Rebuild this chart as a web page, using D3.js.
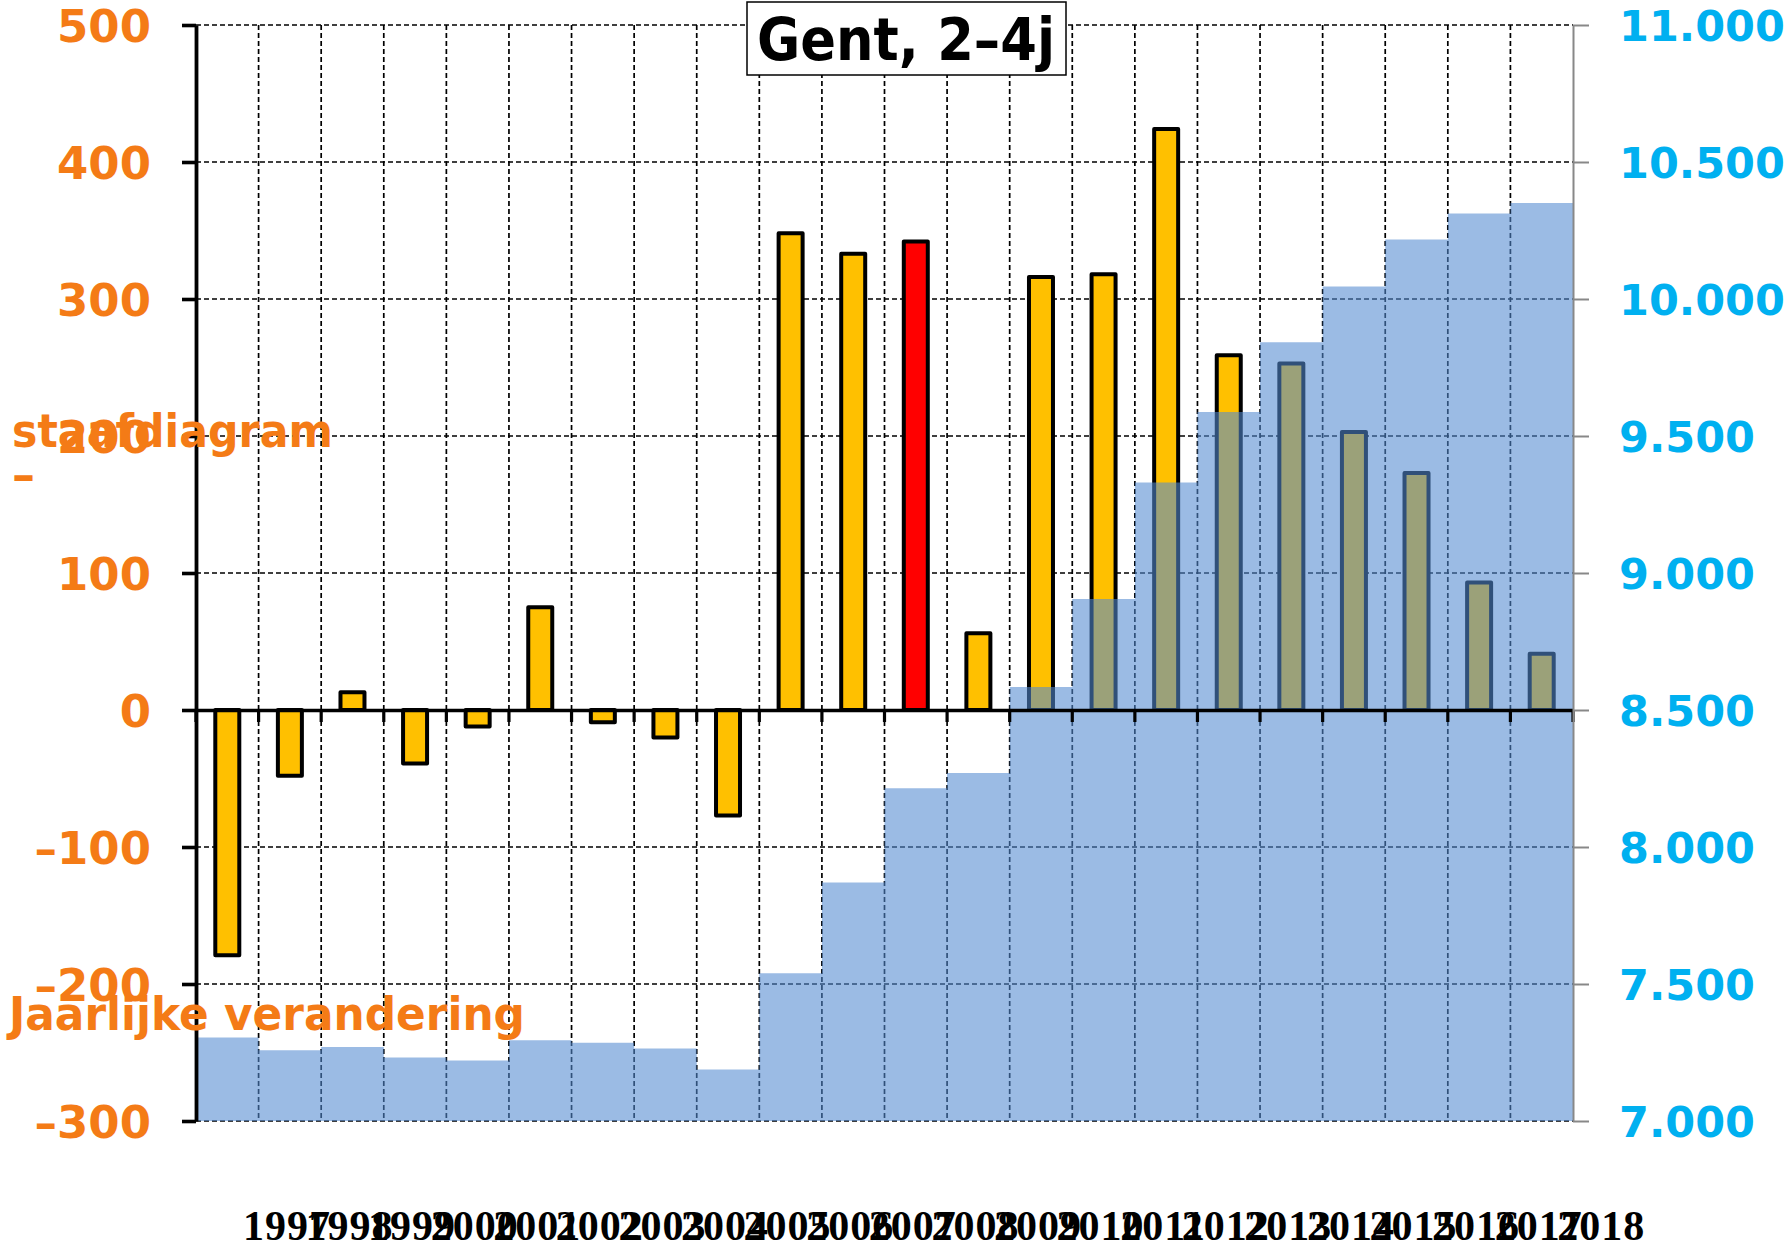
<!DOCTYPE html>
<html>
<head>
<meta charset="utf-8">
<script src="https://cdn.jsdelivr.net/npm/d3@7"></script>
<style>
  body { margin: 0; background: #fff; }
  svg { display: block; }
</style>
</head>
<body>
<div id="svg-area"></div>
<script>

// Data //

var years = [1997, 1998, 1999, 2000, 2001, 2002, 2003, 2004, 2005, 2006, 2007,
             2008, 2009, 2010, 2011, 2012, 2013, 2014, 2015, 2016, 2017, 2018];

// yearly change (bars, left axis)
var changes = [-179, -48, 13, -39, -12, 75, -9, -20, -77, 348, 333,
               342, 56, 316, 318, 424, 259, 253, 203, 173, 93, 41];

// population (area, right axis)
var totals = [7305, 7258, 7270, 7232, 7221, 7295, 7286, 7265, 7188, 7539, 7870,
              8214, 8270, 8584, 8905, 9330, 9588, 9842, 10046, 10217, 10312, 10350];

var leftTicks = [-300, -200, -100, 0, 100, 200, 300, 400, 500];
var rightTicks = [7000, 7500, 8000, 8500, 9000, 9500, 10000, 10500, 11000];

var highlightYear = 2008;
var titleText = "Gent, 2–4j";

// Boiler plate //

var svgWidth = 1790;
var svgHeight = 1250;

var margin = { top: 25, right: 217, bottom: 129, left: 196 };

var chartWidth = svgWidth - margin.left - margin.right;
var chartHeight = svgHeight - margin.top - margin.bottom;

var orange = "#F47B16";
var cyan = "#00B0F0";

var svg = d3.select("#svg-area")
  .append("svg")
  .attr("width", svgWidth)
  .attr("height", svgHeight);

var chartGroup = svg.append("g")
  .attr("transform", `translate(${margin.left}, ${margin.top})`);

// Scales //

var xScale = d3.scaleBand()
  .domain(years)
  .range([0, chartWidth])
  .padding(0);

var step = xScale.step();
var barWidth = 24;

var yLeft = d3.scaleLinear()
  .domain([-300, 500])
  .range([chartHeight, 0]);

var yRight = d3.scaleLinear()
  .domain([7000, 11000])
  .range([chartHeight, 0]);

// Gridlines //

var grid = chartGroup.append("g")
  .attr("stroke", "#000")
  .attr("stroke-width", 1.7)
  .attr("stroke-dasharray", "5,3");

grid.selectAll("line.h")
  .data(leftTicks)
  .enter()
  .append("line")
  .attr("class", "h")
  .attr("x1", 0)
  .attr("x2", chartWidth)
  .attr("y1", d => yLeft(d))
  .attr("y2", d => yLeft(d));

grid.selectAll("line.v")
  .data(years.slice(1))
  .enter()
  .append("line")
  .attr("class", "v")
  .attr("x1", d => xScale(d))
  .attr("x2", d => xScale(d))
  .attr("y1", 0)
  .attr("y2", chartHeight);

// Bars //

chartGroup.selectAll("rect.bar")
  .data(years)
  .enter()
  .append("rect")
  .attr("class", "bar")
  .attr("x", d => xScale(d) + (step - barWidth) / 2)
  .attr("y", (d, i) => yLeft(Math.max(0, changes[i])))
  .attr("width", barWidth)
  .attr("height", (d, i) => Math.abs(yLeft(changes[i]) - yLeft(0)))
  .attr("fill", d => d === highlightYear ? "#FF0000" : "#FFC000")
  .attr("stroke", "#000")
  .attr("stroke-width", 4)
  .attr("stroke-linejoin", "round");

// Step area on top //

var areaData = [];
years.forEach(function(y, i) {
  areaData.push({ x: xScale(y), v: totals[i] });
  areaData.push({ x: xScale(y) + step, v: totals[i] });
});

var area = d3.area()
  .x(d => d.x)
  .y0(chartHeight)
  .y1(d => yRight(d.v));

chartGroup.append("path")
  .datum(areaData)
  .attr("d", area)
  .attr("fill", "rgb(83,138,209)")
  .attr("fill-opacity", 0.58);

// Axes //

// zero line with ticks pointing down
var zeroAxis = d3.axisBottom(xScale)
  .tickSize(0)
  .tickFormat("");

chartGroup.append("g")
  .attr("transform", `translate(0, ${yLeft(0)})`)
  .call(zeroAxis)
  .call(g => g.select(".domain").attr("stroke", "#000").attr("stroke-width", 3.6));

chartGroup.append("g")
  .selectAll("line")
  .data(years.concat([null]))
  .enter()
  .append("line")
  .attr("x1", d => d === null ? chartWidth : xScale(d))
  .attr("x2", d => d === null ? chartWidth : xScale(d))
  .attr("y1", yLeft(0))
  .attr("y2", yLeft(0) + 12)
  .attr("stroke", "#000")
  .attr("stroke-width", 3.2);

var leftAxis = d3.axisLeft(yLeft)
  .tickValues(leftTicks)
  .tickSize(14)
  .tickPadding(31)
  .tickSizeOuter(0)
  .tickFormat(d => d < 0 ? "–" + Math.abs(d) : d);

chartGroup.append("g")
  .call(leftAxis)
  .call(g => g.select(".domain").attr("stroke", "#000").attr("stroke-width", 3.8))
  .call(g => g.selectAll(".tick line").attr("stroke", "#000").attr("stroke-width", 3.6))
  .call(g => g.selectAll(".tick text")
    .attr("fill", orange)
    .attr("font-family", "DejaVu Sans")
    .attr("font-weight", "bold")
    .attr("font-size", 45)
    .attr("dy", "0.36em"));

var rightAxis = d3.axisRight(yRight)
  .tickValues(rightTicks)
  .tickSize(16)
  .tickPadding(30)
  .tickSizeOuter(0)
  .tickFormat(d => d3.format(",")(d).replace(",", "."));

chartGroup.append("g")
  .attr("transform", `translate(${chartWidth}, 0)`)
  .call(rightAxis)
  .call(g => g.select(".domain").attr("stroke", "#888").attr("stroke-width", 2))
  .call(g => g.selectAll(".tick line").attr("stroke", "#888").attr("stroke-width", 2))
  .call(g => g.selectAll(".tick text")
    .attr("fill", cyan)
    .attr("font-family", "DejaVu Sans")
    .attr("font-weight", "bold")
    .attr("font-size", 43)
    .attr("dy", "0.36em"));

// Year labels (shifted one column, overlapping like the original)
chartGroup.selectAll("text.year")
  .data(years)
  .enter()
  .append("text")
  .attr("class", "year")
  .attr("x", d => xScale(d) + step * 1.5 - 3)
  .attr("y", svgHeight - margin.top - 10)
  .attr("text-anchor", "middle")
  .attr("font-family", "Liberation Serif")
  .attr("font-weight", "bold")
  .attr("font-size", 42)
  .attr("letter-spacing", 1)
  .attr("fill", "#000")
  .text(d => d);

// Axis titles //

var titleStyle = function(sel) {
  sel.attr("font-family", "DejaVu Sans")
    .attr("font-weight", "bold")
    .attr("font-size", 47)
    .attr("fill", orange)
    .attr("lengthAdjust", "spacingAndGlyphs");
};

svg.append("text")
  .attr("x", 12)
  .attr("y", 447)
  .attr("textLength", 321)
  .call(titleStyle)
  .text("staafdiagram");

svg.append("text")
  .attr("x", 12)
  .attr("y", 491)
  .attr("font-family", "DejaVu Sans")
  .attr("font-weight", "bold")
  .attr("font-size", 46)
  .attr("fill", orange)
  .text("–");

svg.append("text")
  .attr("x", 9)
  .attr("y", 1030)
  .attr("textLength", 516)
  .call(titleStyle)
  .text("Jaarlijke verandering");

// Chart title //

svg.append("rect")
  .attr("x", 747)
  .attr("y", 2)
  .attr("width", 319)
  .attr("height", 73)
  .attr("fill", "#fff")
  .attr("stroke", "#000")
  .attr("stroke-width", 1.5);

svg.append("text")
  .attr("x", 906)
  .attr("y", 60)
  .attr("text-anchor", "middle")
  .attr("font-family", "DejaVu Sans")
  .attr("font-weight", "bold")
  .attr("font-size", 58)
  .attr("textLength", 298)
  .attr("lengthAdjust", "spacingAndGlyphs")
  .attr("fill", "#000")
  .text(titleText);

</script>
</body>
</html>
